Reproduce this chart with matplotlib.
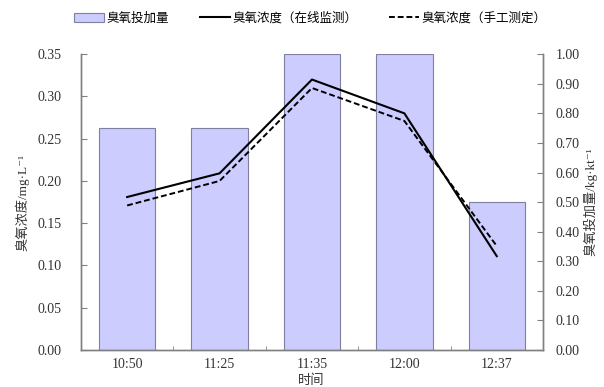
import matplotlib
matplotlib.use("Agg")
import matplotlib.pyplot as plt
import numpy as np
from matplotlib.lines import Line2D
from matplotlib.patches import Patch

plt.rcParams["font.family"] = ["Liberation Serif", "Noto Sans CJK SC", "DejaVu Sans"]

times = ["10:50", "11:25", "11:35", "12:00", "12:37"]
dosage = [0.75, 0.75, 1.00, 1.00, 0.50]          # kg/kt
conc_online = [0.181, 0.209, 0.320, 0.280, 0.111]  # mg/L
conc_manual = [0.171, 0.200, 0.310, 0.271, 0.123]  # mg/L

x = np.arange(len(times))
cjk = ["Noto Sans CJK SC", "DejaVu Sans"]
serif_cjk = ["Liberation Serif", "DejaVu Serif", "Noto Sans CJK SC"]

fig = plt.figure(figsize=(6.04, 3.87), dpi=100)
ax = fig.add_axes([0.134, 0.0956, 0.765, 0.7644])
ax2 = ax.twinx()

# bars on the secondary axis, drawn behind the concentration lines
ax2.bar(x, dosage, width=0.61, color="#ccccff", edgecolor="#7f7f9f", linewidth=0.8, zorder=1)
ax.set_zorder(ax2.get_zorder() + 1)
ax.patch.set_visible(False)

ax.plot(x, conc_online, color="black", lw=1.5, zorder=3)
ax.plot(x, conc_manual, color="black", lw=1.4, ls=(0, (3, 1.5)), zorder=3)

ax.set_xlim(-0.5, len(times) - 0.5)
ax.set_ylim(0, 0.35)
ax.set_yticks(np.arange(0, 0.351, 0.05))
ax.set_yticklabels([f"{v:.2f}" for v in np.arange(0, 0.351, 0.05)])
ax2.set_ylim(0, 1.0)
ax2.set_yticks(np.arange(0, 1.001, 0.1))
ax2.set_yticklabels([f"{v:.2f}" for v in np.arange(0, 1.001, 0.1)])

ax.set_xticks(x)
ax.set_xticklabels(times)
ax.set_xticks(np.arange(0.5, len(times) - 0.5), minor=True)
ax.tick_params(axis="x", which="major", length=0, pad=6)
ax.tick_params(axis="x", which="minor", direction="in", length=3, color="#808080")
ax.tick_params(axis="y", direction="in", length=4, color="#808080", labelsize=10,
               labelcolor="#333333", pad=14)
ax.tick_params(axis="x", labelsize=10, labelcolor="#333333")
ax2.tick_params(axis="y", direction="in", length=4, color="#808080", labelsize=10,
                labelcolor="#333333", pad=9)

for a in (ax, ax2):
    a.spines["top"].set_visible(False)
    for s in ("left", "right", "bottom"):
        a.spines[s].set_color("#808080")
        a.spines[s].set_linewidth(1.0)

ax.set_ylabel("臭氧浓度/mg·L⁻¹", family=serif_cjk, fontsize=9.5,
              color="#333333", labelpad=6)
ax2.set_ylabel("臭氧投加量/kg·kt⁻¹", family=serif_cjk, fontsize=9.5, color="#333333",
               rotation=90, labelpad=3)
fig.text(0.515, 0.016, "时间", family=cjk, fontsize=9.5, color="#333333",
         ha="center", va="center")

handles = [
    Patch(facecolor="#ccccff", edgecolor="#7f7f9f", linewidth=0.8),
    Line2D([], [], color="black", lw=1.5),
    Line2D([], [], color="black", lw=1.4, ls=(0, (3, 1.5))),
]
labels = ["臭氧投加量", "臭氧浓度（在线监测）", "臭氧浓度（手工测定）"]
fig.legend(handles, labels, loc="center", bbox_to_anchor=(0.513, 0.953), ncol=3,
           frameon=False, prop={"family": cjk, "size": 9.0}, handlelength=2.4,
           handletextpad=0.2, columnspacing=2.5, borderpad=0, borderaxespad=0)

fig.savefig("out.png", dpi=100)
